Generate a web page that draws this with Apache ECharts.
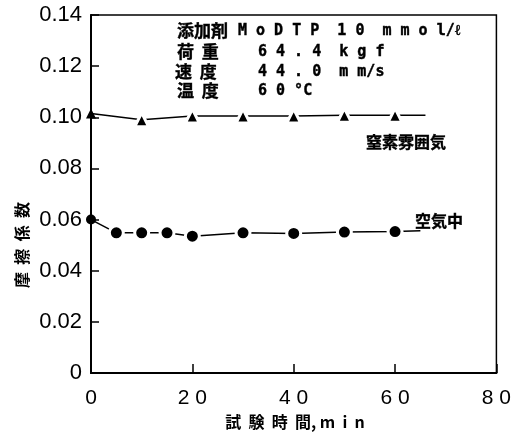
<!DOCTYPE html>
<html>
<head>
<meta charset="utf-8">
<script src="https://cdn.jsdelivr.net/npm/echarts@6/dist/echarts.min.js"></script>
<style>
  html, body { margin: 0; padding: 0; background: #fff; }
  #chart { width: 514px; height: 434px; }
</style>
</head>
<body>
<div id="chart"></div>
<script>
// time (min) and friction coefficient
const n2Time = [0, 10, 20, 30, 40, 50, 60];
const n2Mu = [0.1015, 0.099, 0.1005, 0.1005, 0.1005, 0.1008, 0.1008];
const n2TailTime = 66;
const n2TailMu = 0.1008;

const airTime = [0, 5, 10, 15, 20, 30, 40, 50, 60];
const airMu = [0.060, 0.0548, 0.0548, 0.0548, 0.0535, 0.0548, 0.0546, 0.0551, 0.0553];
const airTailTime = 65;
const airTailMu = 0.0556;

const xTicks = [0, 20, 40, 60, 80];
const yTicks = [0, 0.02, 0.04, 0.06, 0.08, 0.10, 0.12, 0.14];

const cjk = '"Noto Sans CJK JP", sans-serif';
const mono = '"DejaVu Sans Mono", monospace';
const sans = '"Liberation Sans", Arial, sans-serif';

function buildData(times, vals, tailT, tailV) {
  const out = times.map((t, i) => {
    const item = {value: [t, vals[i]]};
    // point sitting on the y axis: no white halo so the axis stays whole
    if (t === 0) {
      item.itemStyle = {borderWidth: 0};
      item.symbolSize = 10;
    }
    return item;
  });
  out.push({value: [tailT, tailV], symbol: 'none'});
  return out;
}

const chart = echarts.init(document.getElementById('chart'));

function txt(x, y, s, font, size, weight) {
  return {
    type: 'text', x: x, y: y, silent: true,
    style: {
      text: s, fill: '#000', fontFamily: font, fontSize: size,
      fontWeight: weight || 'bold', verticalAlign: 'middle', align: 'left',
      stroke: '#000', lineWidth: 0.4
    }
  };
}

chart.setOption({
  animation: false,
  backgroundColor: '#fff',
  grid: {
    left: 91, right: 16, top: 15, bottom: 61,
    show: true, borderColor: '#000', borderWidth: 1.5
  },
  xAxis: {
    type: 'value', min: 0, max: 80, interval: 20,
    axisLine: {show: true, lineStyle: {color: '#000', width: 2}},
    axisTick: {show: true, inside: true, length: 9, lineStyle: {color: '#000', width: 1.5}},
    splitLine: {show: false},
    axisLabel: {
      color: '#000', fontFamily: sans, fontSize: 21, margin: 15,
      formatter: v => xTicks.includes(v) ? String(v).split('').join(' ') : ''
    }
  },
  yAxis: {
    type: 'value', min: 0, max: 0.14, interval: 0.02,
    axisLine: {show: true, lineStyle: {color: '#000', width: 2}},
    axisTick: {show: true, inside: true, length: 8, lineStyle: {color: '#000', width: 1.5}},
    splitLine: {show: false},
    axisLabel: {
      color: '#000', fontFamily: sans, fontSize: 22, margin: 9,
      formatter: v => {
        const t = yTicks.find(k => Math.abs(k - v) < 1e-9);
        if (t === undefined) return '';
        return t === 0 ? '0' : t.toFixed(2);
      }
    }
  },
  series: [
    {
      name: '窒素雰囲気', type: 'line',
      data: buildData(n2Time, n2Mu, n2TailTime, n2TailMu),
      symbol: 'triangle', symbolSize: 14, clip: false,
      lineStyle: {color: '#000', width: 1.5},
      itemStyle: {color: '#000', borderColor: '#fff', borderWidth: 3}
    },
    {
      name: '空気中', type: 'line',
      data: buildData(airTime, airMu, airTailTime, airTailMu),
      symbol: 'circle', symbolSize: 14, clip: false,
      lineStyle: {color: '#000', width: 1.5},
      itemStyle: {color: '#000', borderColor: '#fff', borderWidth: 3}
    }
  ],
  graphic: [
    // condition block
    txt(177, 31, '添加剤', cjk, 17),
    txt(238, 31, 'M o D T P  1 0  m m o l/ℓ', mono, 15),
    txt(177, 52, '荷  重', cjk, 17),
    txt(258, 52, '6 4 . 4  k g f', mono, 15),
    txt(175, 72, '速  度', cjk, 17),
    txt(258, 72, '4 4 . 0  m m/s', mono, 15),
    txt(177, 91, '温  度', cjk, 17),
    txt(258, 91, '6 0 °C', mono, 15),
    // series labels
    txt(366, 142, '窒素雰囲気', cjk, 16),
    txt(415, 221, '空気中', cjk, 16),
    // axis titles
    {
      type: 'text', x: 22, y: 245, rotation: Math.PI / 2, silent: true,
      style: {
        text: '摩  擦  係  数', fill: '#000', fontFamily: cjk, fontSize: 16,
        fontWeight: 'bold', align: 'center', verticalAlign: 'middle'
      }
    },
    {
      type: 'text', x: 295, y: 422, silent: true,
      style: {
        text: '試  験  時  間, m  i  n', fill: '#000', fontFamily: cjk, fontSize: 16,
        fontWeight: 'bold', align: 'center', verticalAlign: 'middle'
      }
    }
  ]
});
</script>
</body>
</html>
